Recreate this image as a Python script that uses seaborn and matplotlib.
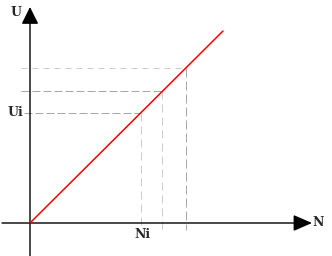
import matplotlib
matplotlib.use("Agg")
import matplotlib.pyplot as plt
import seaborn as sns
import pandas as pd

# Data
line_N = [0, 193]
line_U = [0, 192]
guide_N = [111, 132, 156]
guide_U = [110, 132, 155]
guide_labels_x = ["Ni", "", ""]
guide_labels_y = ["Ui", "", ""]
axis_labels = ["N", "U"]

sns.set_style("white")
plt.rcParams['font.family'] = ['DejaVu Serif']

fig = plt.figure(figsize=(3.32, 2.56), dpi=100)
ax = fig.add_axes([0, 0, 1, 1])
ax.set_xlim(-30, 302)
ax.set_ylim(-33, 223)
ax.axis("off")

px = 0.72  # one pixel in points

# guide styles
h_styles = [dict(color="#a8a8a8", dashes=(8, 3)),
            dict(color="#a8a8a8", dashes=(8, 3)),
            dict(color="#cccccc", dashes=(6, 5))]
h_start = [-6, -9, -9]
v_styles = [dict(color="#cccccc", dashes=(8, 5)),
            dict(color="#cccccc", dashes=(8, 5)),
            dict(color="#a8a8a8", dashes=(9, 4))]
v_end = [-2, -7, -7]

for n, u, hs, h0, vs, v0 in zip(guide_N, guide_U, h_styles, h_start, v_styles, v_end):
    ax.plot([h0, n], [u, u], lw=px, color=hs["color"], dashes=hs["dashes"], zorder=1)
    ax.plot([n, n], [u, v0], lw=px, color=vs["color"], dashes=vs["dashes"], zorder=1)

# axes with arrows
ax.annotate("", xy=(282, 0), xytext=(-28, 0),
            arrowprops=dict(arrowstyle="-|>,head_length=1.15,head_width=0.5",
                            mutation_scale=10, color="black", lw=1.0,
                            shrinkA=0, shrinkB=0), zorder=3)
ax.annotate("", xy=(0, 216), xytext=(0, -33),
            arrowprops=dict(arrowstyle="-|>,head_length=1.05,head_width=0.52",
                            mutation_scale=10, color="black", lw=1.0,
                            shrinkA=0, shrinkB=0), zorder=3)

# red line
df = pd.DataFrame({"N": line_N, "U": line_U})
sns.lineplot(data=df, x="N", y="U", ax=ax, color="red", lw=1.1, zorder=4)
ax.axis("off")
ax.set_xlim(-30, 302)
ax.set_ylim(-33, 223)

tk = dict(fontweight="bold", fontsize=9, ha="center", va="center")
ax.text(-14, 210, axis_labels[1], **tk)
ax.text(288, 1, axis_labels[0], **tk)
ax.text(-15, guide_U[0] + 1, guide_labels_y[0], **tk)
ax.text(guide_N[0] + 1, -11, guide_labels_x[0], **tk)

fig.savefig("out.png", dpi=100)
